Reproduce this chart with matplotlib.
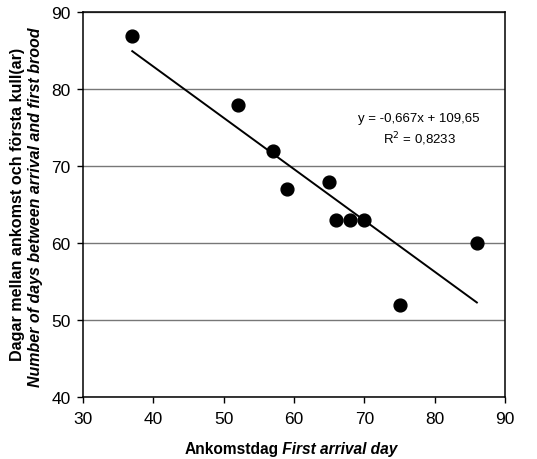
import matplotlib.pyplot as plt
import numpy as np

plt.rcParams['font.family'] = ['Liberation Sans', 'DejaVu Sans']

arrival_day = [37, 52, 57, 59, 65, 66, 68, 70, 75, 86]
days_to_brood = [87, 78, 72, 67, 68, 63, 63, 63, 52, 60]
slope = -0.667
intercept = 109.65
eq_text = "y = -0,667x + 109,65"
r2_text = "R$^2$ = 0,8233"

fig = plt.figure(figsize=(5.37, 4.6), dpi=100)
ax = fig.add_axes([0.1546, 0.1348, 0.7858, 0.8359])

ax.scatter(arrival_day, days_to_brood, s=85, color='black', zorder=3)
fit_x = np.array([min(arrival_day), max(arrival_day)])
ax.plot(fit_x, slope * fit_x + intercept, color='black', lw=1.4, zorder=2)

ax.set_xlim(30, 90)
ax.set_ylim(40, 90)
ax.set_xticks(range(30, 91, 10))
ax.set_yticks(range(40, 91, 10))
ax.yaxis.grid(True, color='#777777', lw=1.0)
ax.set_axisbelow(True)
ax.tick_params(direction='out', length=4, width=1, labelsize=12.5, colors='black')
ax.tick_params(axis='x', pad=6)
ax.tick_params(axis='y', pad=5)
for sp in ax.spines.values():
    sp.set_linewidth(1.1)

ax.text(77.8, 76.3, eq_text, ha='center', va='center', fontsize=9.5)
ax.text(77.8, 73.7, r2_text, ha='center', va='center', fontsize=9.5)

# x label, mixed upright/italic
t1 = fig.text(0.518, 0.006, "Ankomstdag", ha='right', va='bottom',
              fontsize=11.2, fontweight='bold')
ax.annotate(" First arrival day", xy=(1, 0), xycoords=t1, va='bottom',
            fontsize=11.2, fontweight='bold', fontstyle='italic')

# y label, two lines
fig.text(0.032, 0.555, "Dagar mellan ankomst och första kull(ar)", rotation=90,
         ha='center', va='center', fontsize=11.6, fontweight='bold')
fig.text(0.066, 0.55, "Number of days between arrival and first brood", rotation=90,
         ha='center', va='center', fontsize=11.5, fontweight='bold', fontstyle='italic')

fig.savefig("out.png", dpi=100)
